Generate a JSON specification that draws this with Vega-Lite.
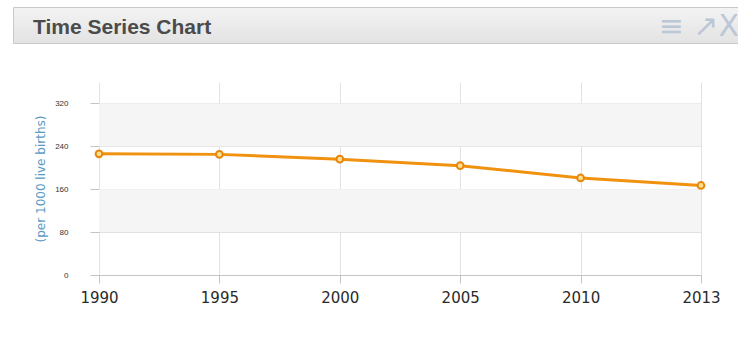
{
  "$schema": "https://vega.github.io/schema/vega-lite/v6.json",
  "background": "white",
  "padding": {"left": 12, "top": 6, "right": 0, "bottom": 0},
  "spacing": 38,
  "align": "none",
  "config": {"view": {"stroke": null}},
  "datasets": {
    "series": [
      {"year": "1990", "rate": 226},
      {"year": "1995", "rate": 225},
      {"year": "2000", "rate": 216},
      {"year": "2005", "rate": 204},
      {"year": "2010", "rate": 181},
      {"year": "2013", "rate": 167}
    ],
    "bands": [
      {"from": 80, "to": 160},
      {"from": 240, "to": 320}
    ],
    "header": [
      {"label": "Time Series Chart"},
      {"label": "≡ ↗X"}
    ]
  },
  "vconcat": [
    {
      "width": 726,
      "height": 36,
      "view": {
        "fill": {"gradient": "linear", "x1": 0, "y1": 0, "x2": 0, "y2": 1,
                 "stops": [{"offset": 0, "color": "#f3f3f3"}, {"offset": 1, "color": "#e3e3e3"}]},
        "stroke": "#c9c9c9",
        "strokeWidth": 1
      },
      "data": {"name": "header"},
      "encoding": {
        "x": {"field": "label", "type": "nominal", "axis": null,
              "scale": {"type": "point", "padding": 0, "domain": ["Time Series Chart", "≡ ↗X"]}},
        "text": {"field": "label"}
      },
      "layer": [
        {
          "transform": [{"filter": "datum.label === 'Time Series Chart'"}],
          "mark": {"type": "text", "align": "left", "baseline": "middle", "dx": 20, "dy": 3,
                   "font": "Liberation Sans", "fontWeight": "bold", "fontSize": 21, "fill": "#4b4b4b"}
        },
        {
          "transform": [{"filter": "datum.label !== 'Time Series Chart'"}],
          "mark": {"type": "text", "align": "right", "baseline": "middle", "dx": 0, "dy": 2,
                   "font": "DejaVu Sans", "fontSize": 30, "fill": "#bcc7d6"}
        }
      ]
    },
    {
      "spacing": 0,
      "align": "none",
      "hconcat": [
        {
          "width": 21,
          "height": 1,
          "data": {"values": []},
          "mark": {"type": "text"}
        },
        {
          "width": 602,
          "height": 193,
          "layer": [
            {
              "data": {"name": "bands"},
              "mark": {"type": "rect", "fill": "#f5f5f5"},
              "encoding": {
                "y": {"field": "from", "type": "quantitative", "scale": {"domain": [0, 360], "nice": false}},
                "y2": {"field": "to"}
              }
            },
            {
              "data": {"name": "series"},
              "encoding": {
                "x": {
                  "field": "year", "type": "ordinal",
                  "scale": {"type": "point", "padding": 0},
                  "axis": {
                    "title": null, "labelAngle": 0, "grid": true, "gridColor": "#e2e2e2",
                    "domainColor": "#c4c4c4", "tickColor": "#c4c4c4", "tickSize": 8,
                    "labelFont": "DejaVu Sans", "labelFontSize": 15, "labelColor": "#2a2a2a",
                    "labelPadding": 7
                  }
                },
                "y": {
                  "field": "rate", "type": "quantitative",
                  "scale": {"domain": [0, 360], "nice": false},
                  "axis": {
                    "title": "(per 1000 live births)", "titleFont": "DejaVu Sans", "titleFontSize": 12,
                    "titleFontWeight": "normal", "titleColor": "#5a9ac4", "titlePadding": 7,
                    "values": [0, 80, 160, 240, 320], "grid": true, "gridColor": "#e2e2e2",
                    "domain": false, "tickColor": "#c4c4c4", "tickSize": 9,
                    "labelFont": "Liberation Sans", "labelFontSize": 8, "labelColor": "#333333",
                    "labelPadding": 22
                  }
                }
              },
              "layer": [
                {"mark": {"type": "line", "stroke": "#f0920f", "strokeWidth": 3}},
                {"mark": {"type": "point", "filled": true, "fill": "#fbe08f", "stroke": "#e8860c",
                          "strokeWidth": 2, "size": 45, "opacity": 1}}
              ]
            }
          ]
        }
      ]
    }
  ]
}
